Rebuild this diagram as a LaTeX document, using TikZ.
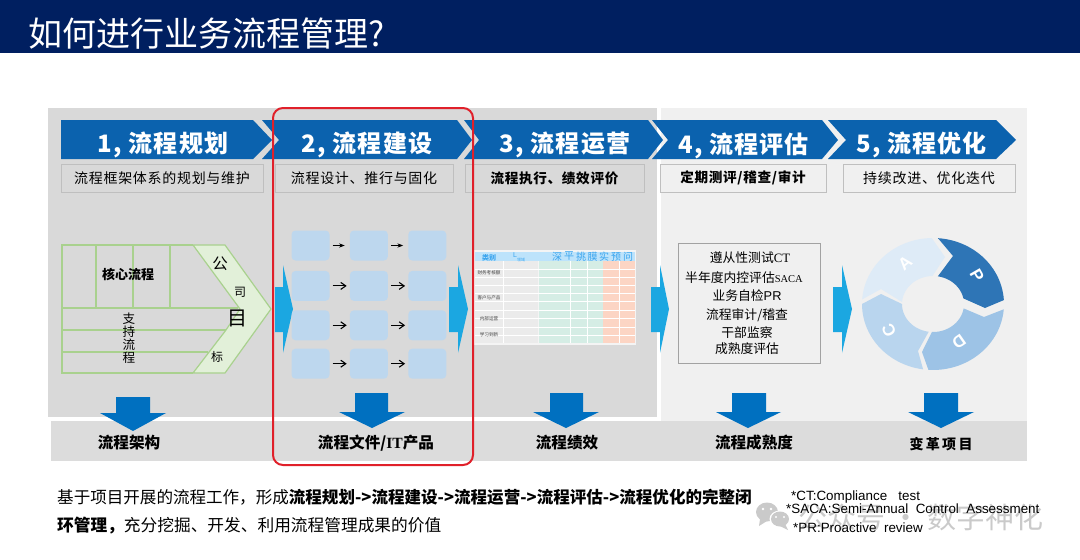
\documentclass[tikz,border=0pt]{standalone}
\usepackage{fontspec}
\setmainfont{Noto Sans CJK SC}
\newfontfamily\lat{Liberation Sans}
\newfontfamily\latserif{Liberation Serif}
\newfontfamily\cjkwide[LetterSpace=5]{Noto Sans CJK SC}
\usepackage{xcolor}
\usetikzlibrary{arrows.meta,positioning}
\definecolor{titlenavy}{HTML}{001F60}
\definecolor{panelgray}{HTML}{D9D9D9}
\definecolor{panellight}{HTML}{F0F0F0}
\definecolor{bandgray}{HTML}{DCDCDC}
\definecolor{boxedge}{HTML}{BFBFBF}
\definecolor{chevblue}{HTML}{0B62AE}
\definecolor{downblue}{HTML}{0070C0}
\definecolor{sideblue}{HTML}{1BA7E1}
\definecolor{blockblue}{HTML}{BDD7EE}
\definecolor{goalgreen}{HTML}{E2F0D9}
\definecolor{linegreen}{HTML}{A9D18E}
\definecolor{markred}{HTML}{E0202A}
\definecolor{tablehead}{HTML}{BDE3FB}
\definecolor{tabletext}{HTML}{3BA5EE}
\definecolor{tablegray}{HTML}{EBEBEB}
\definecolor{tablegreen}{HTML}{D5EDE5}
\definecolor{tablesalmon}{HTML}{FCD5C4}
\definecolor{markgray}{HTML}{CACACA}
\definecolor{ringp}{HTML}{2E75B6}
\definecolor{ringd}{HTML}{9DC3E6}
\definecolor{ringc}{HTML}{B9D5EE}
\definecolor{ringa}{HTML}{DEEBF7}
\newcommand{\fs}[1]{\fontsize{#1}{#1}\selectfont}
\begin{document}
\begin{tikzpicture}[
  x=1pt, y=-1pt,
  >=Stealth,
  head/.style={text=white, font=\cjkwide\fs{24}\bfseries, inner sep=0pt},
  subbox/.style={rectangle, draw=boxedge, line width=0.9pt, minimum height=28pt, inner sep=0pt, font=\cjkwide\fs{14}},
  outlabel/.style={font=\fs{15.6}\bfseries, inner sep=0pt},
  block/.style={rectangle, fill=blockblue, rounded corners=4pt, minimum width=38pt, minimum height=30pt, inner sep=0pt},
  flow/.style={-{Straight Barb[length=5pt,width=7pt]}, draw=black, line width=1.1pt, shorten <=3pt, shorten >=3pt},
  thinflow/.style={->, draw=black, line width=0.6pt, shorten <=3pt, shorten >=5pt},
  goal/.style={inner sep=0pt, font=\fs{#1}},
  goal/.default=12,
  tablerow/.style={inner sep=0pt, font=\fs{4.6}, text=black!75},
  tablecol/.style={inner sep=0pt, font=\fs{10}, text=tabletext},
  foot/.style={inner sep=0pt, anchor=west, font=\lat\fs{13.4}},
  listline/.style={inner sep=0pt, font=\fs{12.8}},
  pdca/.style={inner sep=0pt, text=white, font=\lat\fs{17}\bfseries}
]
  \useasboundingbox (0,0) rectangle (1080,560);
  \fill[titlenavy] (0,0) rectangle (1080,53);
  \node[inner sep=0pt, anchor=west, text=white, font=\fs{34}] (title) at (28,33.5) {如何进行业务流程管理?};

  % panels
  \fill[panelgray] (48,108) rectangle (657,417);
  \fill[panellight] (661,108) rectangle (1027,421);
  \fill[bandgray] (51,421) rectangle (1027,461);

  % header chevrons
  \fill[chevblue] (61,120) -- (253,120) -- (272,140) -- (253,159) -- (61,159) -- cycle;
  \fill[chevblue] (262,120) -- (457,120) -- (472,140) -- (457,159) -- (262,159) -- (279,140) -- cycle;
  \fill[chevblue] (464,120) -- (648,120) -- (663,140) -- (648,159) -- (464,159) -- (479,140) -- cycle;
  \fill[chevblue] (652,120) -- (822,120) -- (838,140) -- (822,159) -- (652,159) -- (668,140) -- cycle;
  \fill[chevblue] (828,120) -- (996,120) -- (1016,140) -- (996,159) -- (828,159) -- (846,140) -- cycle;
  \node[head] (h1) at (163,145) {1, 流程规划};
  \node[head] (h2) at (367,145) {2, 流程建设};
  \node[head] (h3) at (565,145) {3, 流程运营};
  \node[head] (h4) at (743.5,146) {4, 流程评估};
  \node[head] (h5) at (921.5,145) {5, 流程优化};

  % sub titles
  \node[subbox, minimum width=202pt] (s1) at (162,178) {流程框架体系的规划与维护};
  \node[subbox, minimum width=178pt] (s2) at (364,178) {流程设计、推行与固化};
  \node[subbox, minimum width=179pt, font=\cjkwide\fs{13.6}\bfseries] (s3) at (554.5,178) {流程执行、绩效评价};
  \node[subbox, minimum width=166pt, font=\cjkwide\fs{13.6}\bfseries] (s4) at (743,178) {定期测评/稽查/审计};
  \node[subbox, minimum width=172pt] (s5) at (929,178) {持续改进、优化迭代};

  % process framework
  \filldraw[draw=linegreen, fill=goalgreen, line width=1.2pt] (193,245) -- (225,245) -- (271,309) -- (225,373) -- (193,373) -- (226,330) -- (240,309) -- cycle;
  \draw[draw=linegreen, line width=1.2pt] (193,245) -- (62,245) -- (62,373) -- (193,373);
  \draw[draw=linegreen, line width=1.2pt] (62,308) -- (238,308);
  \draw[draw=linegreen, line width=1.2pt] (62,330) -- (226,330);
  \draw[draw=linegreen, line width=1.2pt] (62,352) -- (208,352);
  \draw[draw=linegreen, line width=1.2pt] (96,245) -- (96,308);
  \draw[draw=linegreen, line width=1.2pt] (133,245) -- (133,308);
  \draw[draw=linegreen, line width=1.2pt] (170,245) -- (170,308);
  \node[inner sep=0pt, font=\fs{13}\bfseries] (core) at (128,274) {核心流程};
  \node[inner sep=0pt, align=center, font=\fs{12.6}] (support) at (129,338) {支\\[0.6pt]持\\[0.6pt]流\\[0.6pt]程};
  \node[goal=15.5] (g1) at (220,264) {公};
  \node[goal=12] (g2) at (240,292) {司};
  \node[goal=20] (g3) at (237,318) {目};
  \node[goal=12] (g4) at (217,357) {标};

  % side arrows
  \fill[sideblue] (275,287) -- (283,287) -- (283,265) -- (293,309) -- (283,353) -- (283,332) -- (275,332) -- cycle;
  \fill[sideblue] (449,287) -- (458,287) -- (458,265) -- (468,309) -- (458,353) -- (458,332) -- (449,332) -- cycle;
  \fill[sideblue] (651,287) -- (660,287) -- (660,265) -- (669,309) -- (660,353) -- (660,332) -- (651,332) -- cycle;
  \fill[sideblue] (833,287) -- (842,287) -- (842,265) -- (852,309) -- (842,353) -- (842,332) -- (833,332) -- cycle;

  % process blocks
  \node[block] (b11) at (310.5,245.5) {};
  \node[block, right=20pt of b11] (b12) {};
  \node[block, right=20pt of b12] (b13) {};
  \node[block, below=10pt of b11] (b21) {};
  \node[block, right=20pt of b21] (b22) {};
  \node[block, right=20pt of b22] (b23) {};
  \node[block, below=9pt of b21] (b31) {};
  \node[block, right=20pt of b31] (b32) {};
  \node[block, right=20pt of b32] (b33) {};
  \node[block, below=8pt of b31] (b41) {};
  \node[block, right=20pt of b41] (b42) {};
  \node[block, right=20pt of b42] (b43) {};
  \draw[thinflow] (b11) -- (b12);
  \draw[thinflow] (b12) -- (b13);
  \draw[flow] (b21) -- (b22);
  \draw[flow] (b22) -- (b23);
  \draw[flow] (b31) -- (b32);
  \draw[flow] (b32) -- (b33);
  \draw[flow] (b41) -- (b42);
  \draw[flow] (b42) -- (b43);

  % scorecard table
  \fill[white!70!panelgray] (474,250) rectangle (636,345);
  \fill[tablegray] (475,261) rectangle (538,343);
  \fill[tablegreen] (539,261) rectangle (603,343);
  \fill[tablesalmon] (603,261) rectangle (635,343);
  \fill[tablehead] (475,252) rectangle (635,261);
  \foreach \rowy in {269,277,285,293,301,310,318,327,335}
    \draw[white, line width=0.35pt] (475,\rowy) -- (635,\rowy);
  \foreach \colx in {503,570,587,619}
    \draw[white, line width=0.35pt] (\colx,261) -- (\colx,343);
  \node[inner sep=0pt, text=tabletext, font=\fs{7}\bfseries] (tc0) at (489,258) {类别};
  \node[inner sep=0pt, text=tabletext, font=\lat\fs{7}] (tc1) at (515,255) {L};
  \node[inner sep=0pt, text=tabletext, font=\fs{4}] (tc2) at (521,260) {领域};
  \node[tablecol] (tc3) at (557,256.5) {深};
  \node[tablecol] (tc4) at (569,256.5) {平};
  \node[tablecol] (tc5) at (581,256.5) {挑};
  \node[tablecol] (tc6) at (592.5,256.5) {膜};
  \node[tablecol] (tc7) at (604,256.5) {实};
  \node[tablecol] (tc8) at (616,256.5) {预};
  \node[tablecol] (tc9) at (628,256.5) {问};
  \node[tablerow] (tr1) at (489,273) {财务考核额};
  \node[tablerow] (tr2) at (489,298) {客户与产品};
  \node[tablerow] (tr3) at (489,319) {内部运营};
  \node[tablerow] (tr4) at (489,335) {学习到新};

  % assessment list
  \filldraw[draw=boxedge!85!black, fill=panellight, line width=0.9pt] (678,243) rectangle (820,363);
  \node[listline] (l1) at (750,258) {遵从性测试{\latserif CT}};
  \node[listline] (l2) at (744,278) {半年度内控评估{\latserif\fs{10.5}SACA}};
  \node[listline] (l3) at (747,296) {业务自检{\lat PR}};
  \node[listline] (l4) at (747,315) {流程审计/稽查};
  \node[listline] (l5) at (747,333) {干部监察};
  \node[listline] (l6) at (747,349) {成熟度评估};

  % PDCA ring
  \fill[ringp] plot[domain=-86:-3.4, samples=30] ({933+71*cos(\x)},{304+66*sin(\x)}) -- (985,308) -- plot[domain=-11.6:-81, samples=30] ({933+31*cos(\x)},{304+28*sin(\x)}) -- (953,256) -- cycle;
  \fill[ringd] plot[domain=4.6:93.7, samples=30] ({933+71*cos(\x)},{304+66*sin(\x)}) -- (922,352) -- plot[domain=92:9, samples=30] ({933+31*cos(\x)},{304+28*sin(\x)}) -- (984,317) -- cycle;
  \fill[ringc] plot[domain=98:180, samples=30] ({933+71*cos(\x)},{304+66*sin(\x)}) -- (881,294) -- plot[domain=180:98, samples=30] ({933+31*cos(\x)},{304+28*sin(\x)}) -- (918,351) -- cycle;
  \fill[ringa] plot[domain=184:269, samples=30] ({933+71*cos(\x)},{304+66*sin(\x)}) -- (945,257) -- plot[domain=269:184, samples=30] ({933+31*cos(\x)},{304+28*sin(\x)}) -- (881,289) -- cycle;
  \node[pdca, rotate=-60] (lp) at (977,275) {P};
  \node[pdca, rotate=215] (ld) at (959,342) {D};
  \node[pdca, rotate=115] (lc) at (889,330) {C};
  \node[pdca, rotate=40] (la) at (905,263) {A};

  % down arrows
  \fill[downblue] (116,397) -- (150,397) -- (150,413) -- (166,413) -- (133,431) -- (100,413) -- (116,413) -- cycle;
  \fill[downblue] (355,393) -- (388,393) -- (388,412) -- (405,412) -- (372,428) -- (339,412) -- (355,412) -- cycle;
  \fill[downblue] (550,393) -- (583,393) -- (583,412) -- (599,412) -- (566,428) -- (533,412) -- (550,412) -- cycle;
  \fill[downblue] (732,393) -- (766,393) -- (766,412) -- (781,412) -- (748,428) -- (716,412) -- (732,412) -- cycle;
  \fill[downblue] (924,393) -- (958,393) -- (958,412) -- (974,412) -- (941,428) -- (908,412) -- (924,412) -- cycle;

  % outcomes
  \node[outlabel] (o1) at (129,443) {流程架构};
  \node[outlabel] (o2) at (376,443) {流程文件/{\latserif IT}产品};
  \node[outlabel] (o3) at (567,443) {流程绩效};
  \node[outlabel] (o4) at (754,443) {流程成熟度};
  \node[outlabel, font=\cjkwide\fs{14}\bfseries] (o5) at (941,444) {变\,革\,项\,目};

  % highlight
  \draw[draw=markred, line width=2pt, rounded corners=10pt] (273,108) rectangle (473,465);

  % watermark
  \fill[markgray] (767,512) ellipse [x radius=11, y radius=9.5];
  \fill[markgray] (760,519) -- (759,526) -- (767,521) -- cycle;
  \fill[white] (780,519) ellipse [x radius=10.5, y radius=8.5];
  \fill[markgray] (780,519) ellipse [x radius=9, y radius=7.5];
  \fill[markgray] (785,524) -- (788,530) -- (780,526) -- cycle;
  \fill[white] (763,509) circle (1.4);
  \fill[white] (771,509) circle (1.4);
  \fill[white] (776,517) circle (1.2);
  \fill[white] (784,517) circle (1.2);
  \node[inner sep=0pt, anchor=west, text=markgray, font=\fs{29}] (wm) at (798,517) {公众号 · 数字神化};

  % bottom text
  \node[inner sep=0pt, anchor=west, font=\fs{16.55}] (t1) at (57,497) {基于项目开展的流程工作，形成\textbf{流程规划->流程建设->流程运营->流程评估->流程优化的完整闭}};
  \node[inner sep=0pt, anchor=west, font=\fs{16.7}] (t2) at (57,526) {\textbf{环管理，}充分挖掘、开发、利用流程管理成果的价值};
  \node[foot] (n1) at (791,497) {*CT:Compliance\ \ \ test};
  \node[foot] (n2) at (786,509) {*SACA:Semi-Annual\ \ Control\ \ Assessment};
  \node[foot] (n3) at (793,527.5) {*PR:Proactive\ \ review};
\end{tikzpicture}
\end{document}
